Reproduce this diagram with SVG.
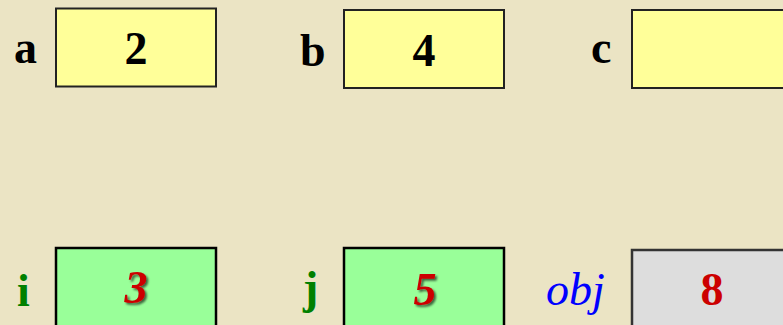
<svg xmlns="http://www.w3.org/2000/svg" width="783" height="325" viewBox="0 0 783 325">
  <defs>
    <filter id="sh" x="-30%" y="-30%" width="160%" height="160%">
      <feDropShadow dx="2" dy="2" stdDeviation="1.2" flood-color="#000" flood-opacity="0.6"/>
    </filter>
  </defs>
  <style>
    .lbl { font-family: "Liberation Serif", "Times New Roman", serif; font-size: 46px; font-weight: bold; fill: #000; }
    .val { font-family: "Liberation Serif", "Times New Roman", serif; font-size: 46px; font-weight: bold; fill: #000; text-anchor: middle; }
    .ylw { fill: #ffff99; stroke: #222; stroke-width: 2; }
    .grn { fill: #99ff99; stroke: #000; stroke-width: 2.5; }
    .gry { fill: #dddddd; stroke: #333; stroke-width: 2.5; }
    .glbl { fill: #008000; }
    .red { fill: #cc0000; }
    .obj { font-weight: normal; font-style: italic; fill: #0000ff; }
  </style>
  <rect width="783" height="325" fill="#ebe4c4"/>
  <g id="a">
    <text class="lbl" x="14" y="63">a</text>
    <rect class="ylw" x="56" y="8.5" width="160" height="78"/>
    <text class="val" x="136" y="64">2</text>
  </g>
  <g id="b">
    <text class="lbl" x="300" y="66">b</text>
    <rect class="ylw" x="344" y="10" width="160" height="78"/>
    <text class="val" x="424" y="66">4</text>
  </g>
  <g id="c">
    <text class="lbl" x="591" y="63">c</text>
    <rect class="ylw" x="632" y="10" width="160" height="78"/>
  </g>
  <g id="i">
    <text class="lbl glbl" x="17" y="306">i</text>
    <rect class="grn" x="56" y="248" width="160" height="90"/>
    <text class="val red" x="136" y="303" font-style="italic" filter="url(#sh)">3</text>
  </g>
  <g id="j">
    <text class="lbl glbl" x="303" y="303">j</text>
    <rect class="grn" x="344" y="248" width="160" height="90"/>
    <text class="val red" x="425" y="305" font-style="italic" filter="url(#sh)">5</text>
  </g>
  <g id="obj">
    <text class="lbl obj" x="546" y="305">obj</text>
    <rect class="gry" x="632" y="250" width="160" height="90"/>
    <text class="val red" x="712" y="305">8</text>
  </g>
  <g id="connectors"/>
</svg>
